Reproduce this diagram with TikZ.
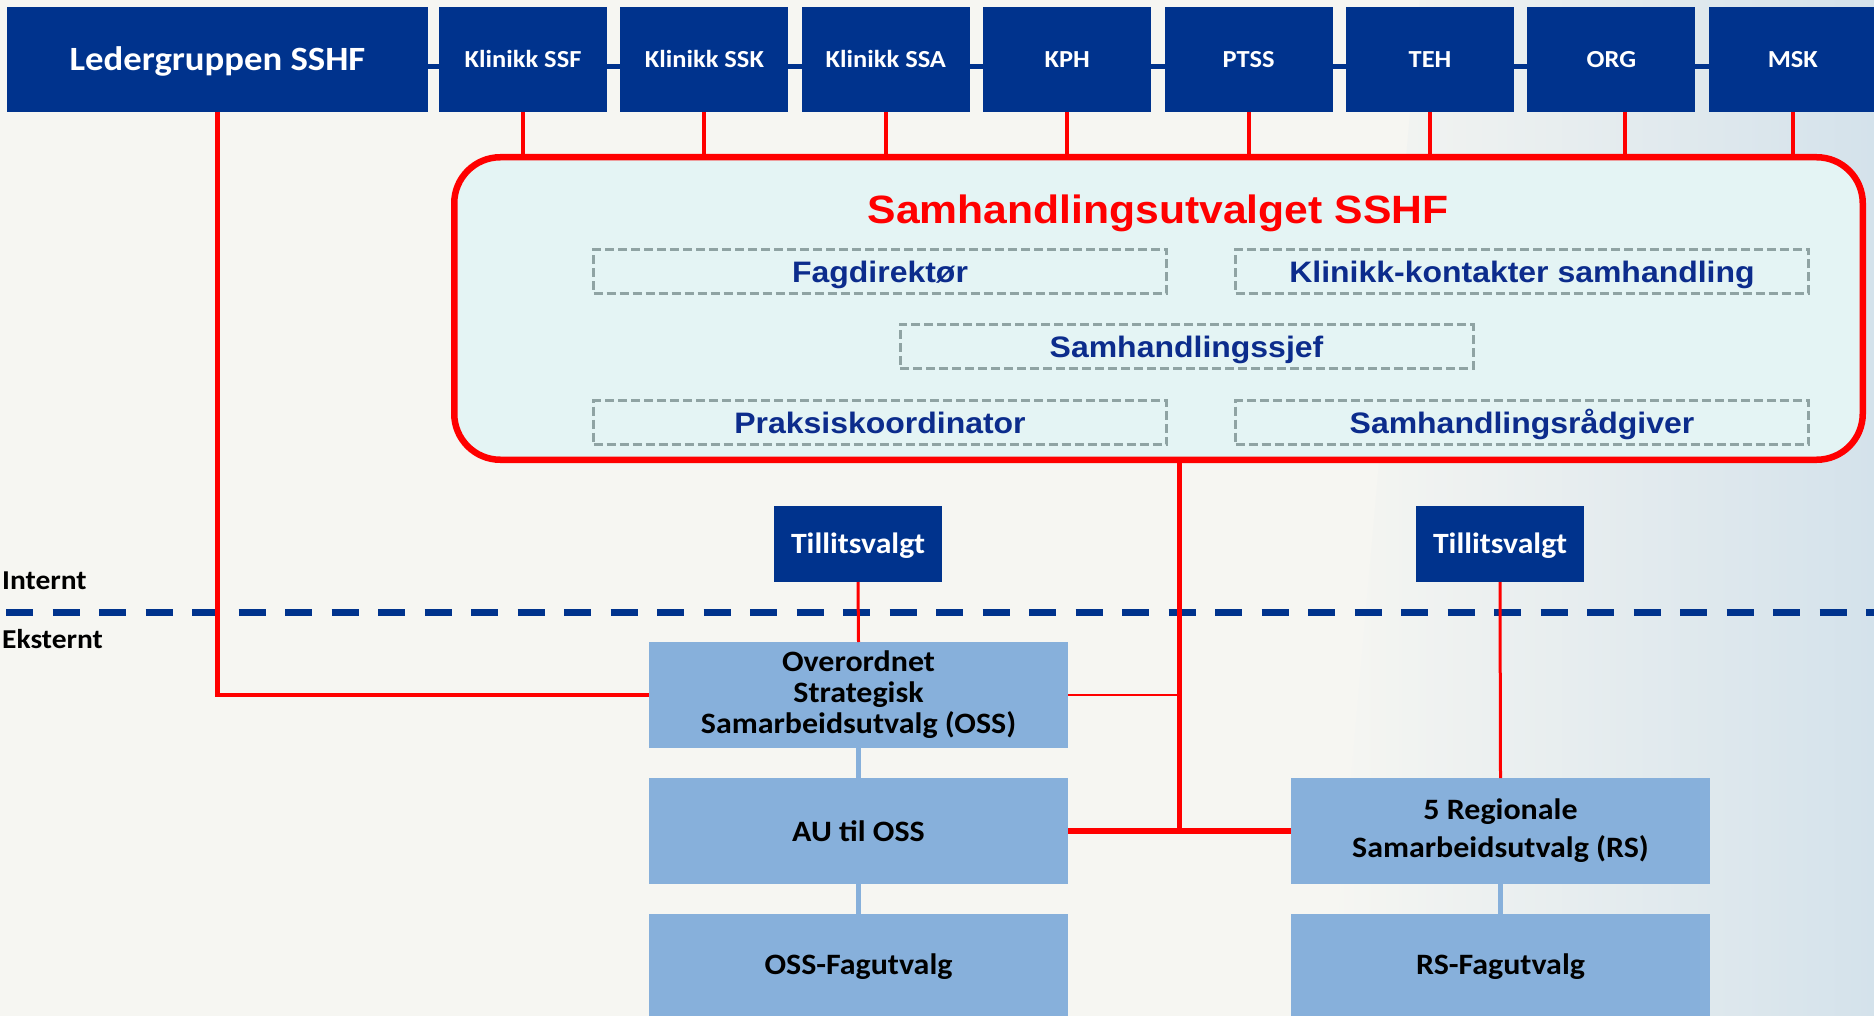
\documentclass[tikz,border=0pt]{standalone}
\usepackage{fontspec}
\setmainfont{Carlito}[FakeStretch=1.08]
\newfontfamily\arialfont{Liberation Sans}[FakeStretch=1.08]
\usetikzlibrary{backgrounds}
\definecolor{sshfblue}{RGB}{0,51,141}
\definecolor{boxblue}{RGB}{135,176,219}
\definecolor{samfill}{RGB}{228,244,244}
\definecolor{dashgray}{RGB}{143,163,163}
\definecolor{rolleblue}{RGB}{12,44,140}
\definecolor{bgcol}{RGB}{246,246,242}
\definecolor{bgblue}{RGB}{212,226,235}
\newcommand\px[1]{\fontsize{#1}{#1}\selectfont}

\begin{document}
\begin{tikzpicture}[x=1pt,y=-1pt,
  topbox/.style={fill=sshfblue,text=white,font=\bfseries\px{24.5},minimum width=168pt,minimum height=105pt,inner sep=0pt,outer sep=0pt,text height=15.8pt,text depth=0pt},
  tillbox/.style={fill=sshfblue,text=white,font=\bfseries\px{29.4},minimum width=168pt,minimum height=76pt,inner sep=0pt,outer sep=0pt,text height=19pt,text depth=0pt},
  utvbox/.style={fill=boxblue,text=black,font=\bfseries\px{29.6},minimum width=419pt,minimum height=106pt,inner sep=0pt,outer sep=0pt,align=center},
  rolle/.style={draw=dashgray,line width=3pt,dash pattern=on 9pt off 4pt,text=rolleblue,font=\arialfont\bfseries\px{29.6},minimum width=573pt,minimum height=44pt,inner sep=0pt,text height=21.2pt,text depth=0pt},
  redline/.style={draw=red,line width=4pt},
  bluelink/.style={draw=boxblue,line width=5pt},
  sidetext/.style={font=\bfseries\px{27.3},anchor=base west,inner sep=0pt}]
\useasboundingbox (0,0) rectangle (1874,1016);
% Drawing boxes
% Top row
\node[topbox,font=\bfseries\px{34},text height=21.9pt,minimum width=421pt] (leder) at (217.5,59.5) {Ledergruppen SSHF};
\foreach \name/\txt [count=\i from 0] in {ssf/Klinikk SSF,ssk/Klinikk SSK,ssa/Klinikk SSA,kph/KPH,ptss/PTSS,teh/TEH,org/ORG,msk/MSK}
  \node[topbox] (\name) at ({523+181.4*\i},59.5) {\txt};
\begin{scope}[on background layer]
\fill[bgcol] (0,0) rectangle (1874,1016);
\shade[left color=bgcol,right color=bgblue] (1420,0) -- (1874,0) -- (1874,1016) -- (1330,1016) -- cycle;
\draw[sshfblue,line width=5pt] ([yshift=-7.5pt]leder.east) -- ([yshift=-7.5pt]msk.west);
\end{scope}
% Samhandlingsutvalget
\node[draw=red,line width=6.5pt,fill=samfill,rounded corners=46pt,minimum width=1408.5pt,minimum height=302.5pt] (sam) at (1158.5,308.5) {};
\node[text=red,font=\arialfont\bfseries\px{39.5},anchor=base,inner sep=0pt] (samtitle) at (1158,224) {Samhandlingsutvalget SSHF};
\node[rolle] (fagdir) at (880,271.5) {Fagdirektør};
\node[rolle] (kontakt) at (1522,271.5) {Klinikk-kontakter samhandling};
\node[rolle] (sjef) at (1186.5,346.5) {Samhandlingssjef};
\node[rolle] (praksis) at (880,422.5) {Praksiskoordinator};
\node[rolle] (radgiver) at (1522,422.5) {Samhandlingsrådgiver};
% Internt / Eksternt
\node[sidetext] (internt) at (2,589) {Internt};
\node[sidetext] (eksternt) at (2,648) {Eksternt};
\draw[sshfblue,line width=7pt,dash pattern=on 27pt off 19.5pt] (6,612) -- (1874,612);
% Lower boxes
\node[tillbox] (till1) at (858,544) {Tillitsvalgt};
\node[tillbox] (till2) at (1500,544) {Tillitsvalgt};
\node[utvbox,font=\bfseries\fontsize{29.6}{31}\selectfont] (oss) at (858.5,695) {Overordnet\\Strategisk\\Samarbeidsutvalg (OSS)};
\node[utvbox] (au) at (858.5,831) {AU til OSS};
\node[utvbox] (ossfag) at (858.5,967) {OSS-Fagutvalg};
\node[utvbox,font=\bfseries\fontsize{29.6}{38}\selectfont] (rs) at (1500.5,831) {5 Regionale\\Samarbeidsutvalg (RS)};
\node[utvbox] (rsfag) at (1500.5,967) {RS-Fagutvalg};
\coordinate (knot) at (1179,831);
% Done with boxes; drawing connectors
\foreach \name/\off in {ssf/0,ssk/0,ssa/0,kph/0,ptss/0,teh/0,org/13.5,msk/0} {
  \coordinate (foot) at ([xshift=\off pt]\name.south);
  \draw[redline] (foot) -- (foot |- sam.north);
}
\draw[redline,line width=4.5pt] (leder.south) -- (leder.south |- oss.west) -- (oss.west);
\draw[redline,line width=5pt] (knot |- sam.south) -- (knot);
\draw[redline,line width=1.5pt] (oss.east) -- (oss.east -| knot);
\draw[redline,line width=5.5pt] (au.east) -- (rs.west);
\draw[redline,line width=3pt] (till1.south) -- (oss.north);
\draw[redline,line width=3pt] (till2.south) -- (rs.north);
\draw[bluelink] (oss.south) -- (au.north);
\draw[bluelink] (au.south) -- (ossfag.north);
\draw[bluelink] (rs.south) -- (rsfag.north);
% Done with connectors
\end{tikzpicture}
\end{document}
